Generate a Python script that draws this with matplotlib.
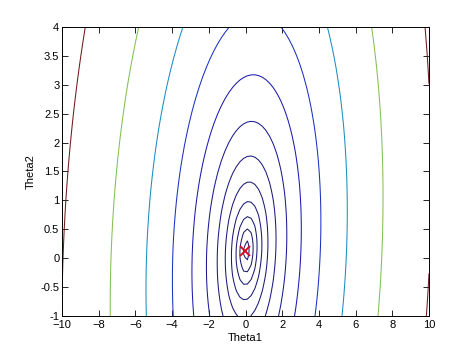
import numpy as np
import matplotlib
matplotlib.use('agg')
from matplotlib import pyplot as plt
from matplotlib import colors as mcolors

# grid the cost was evaluated on (as in the original plot)
theta1_range = [-10, 10]
theta2_range = [-1, 4]
grid_points = 100

# quadratic cost surface:
# J = a*d1^2 + 2*b*d1*d2 + c*d2^2 + j_min
theta_min = [0.06, 0.13]
cost_a = 10.0
cost_b = -1.2
cost_c = 9.6
j_min = 1.0

# contour levels (logspace(-2, 3, 20))
levels = [0.01, 0.0183, 0.0336, 0.0616, 0.113, 0.207, 0.379, 0.695,
          1.274, 2.336, 4.281, 7.848, 14.38, 26.37, 48.33, 88.59,
          162.4, 297.6, 545.6, 1000.0]

theta1_vals = np.linspace(theta1_range[0], theta1_range[1], grid_points)
theta2_vals = np.linspace(theta2_range[0], theta2_range[1], grid_points)
T1, T2 = np.meshgrid(theta1_vals, theta2_vals)
d1 = T1 - theta_min[0]
d2 = T2 - theta_min[1]
J_vals = cost_a * d1 ** 2 + 2 * cost_b * d1 * d2 + cost_c * d2 ** 2 + j_min

# jet, a little muted like the scanned original
jet = plt.get_cmap('jet')
muted = jet(np.linspace(0, 1, 256))[:, :3] * 0.65 + 0.35 * 0.3
cmap = mcolors.ListedColormap(muted)

plt.rcParams['font.family'] = ['Liberation Sans', 'DejaVu Sans']

fig = plt.figure(figsize=(4.74, 3.55), dpi=100)
ax = fig.add_axes([0.131, 0.110, 0.774, 0.814])

ax.contour(T1, T2, J_vals, levels=levels, cmap=cmap, linewidths=0.75)
ax.plot(-0.03, theta_min[1], 'x', color='#d01020',
        markersize=7, markeredgewidth=1.4)

ax.set_xlim(theta1_range)
ax.set_ylim(theta2_range)
ax.set_xticks(np.arange(-10, 11, 2))
ax.set_yticks(np.arange(-1, 4.01, 0.5))
ax.set_yticklabels(['-1', '-0.5', '0', '0.5', '1', '1.5', '2', '2.5', '3', '3.5', '4'])
ax.tick_params(direction='in', length=4, width=0.6, labelsize=8,
               top=True, right=True, pad=2)
ax.tick_params(axis='x', pad=3)
for s in ax.spines.values():
    s.set_linewidth(0.7)
ax.set_xlabel('Theta1', fontsize=8, labelpad=2)
ax.set_ylabel('Theta2', fontsize=8, labelpad=3)

fig.savefig('out.png', dpi=100)
plt.close(fig)
